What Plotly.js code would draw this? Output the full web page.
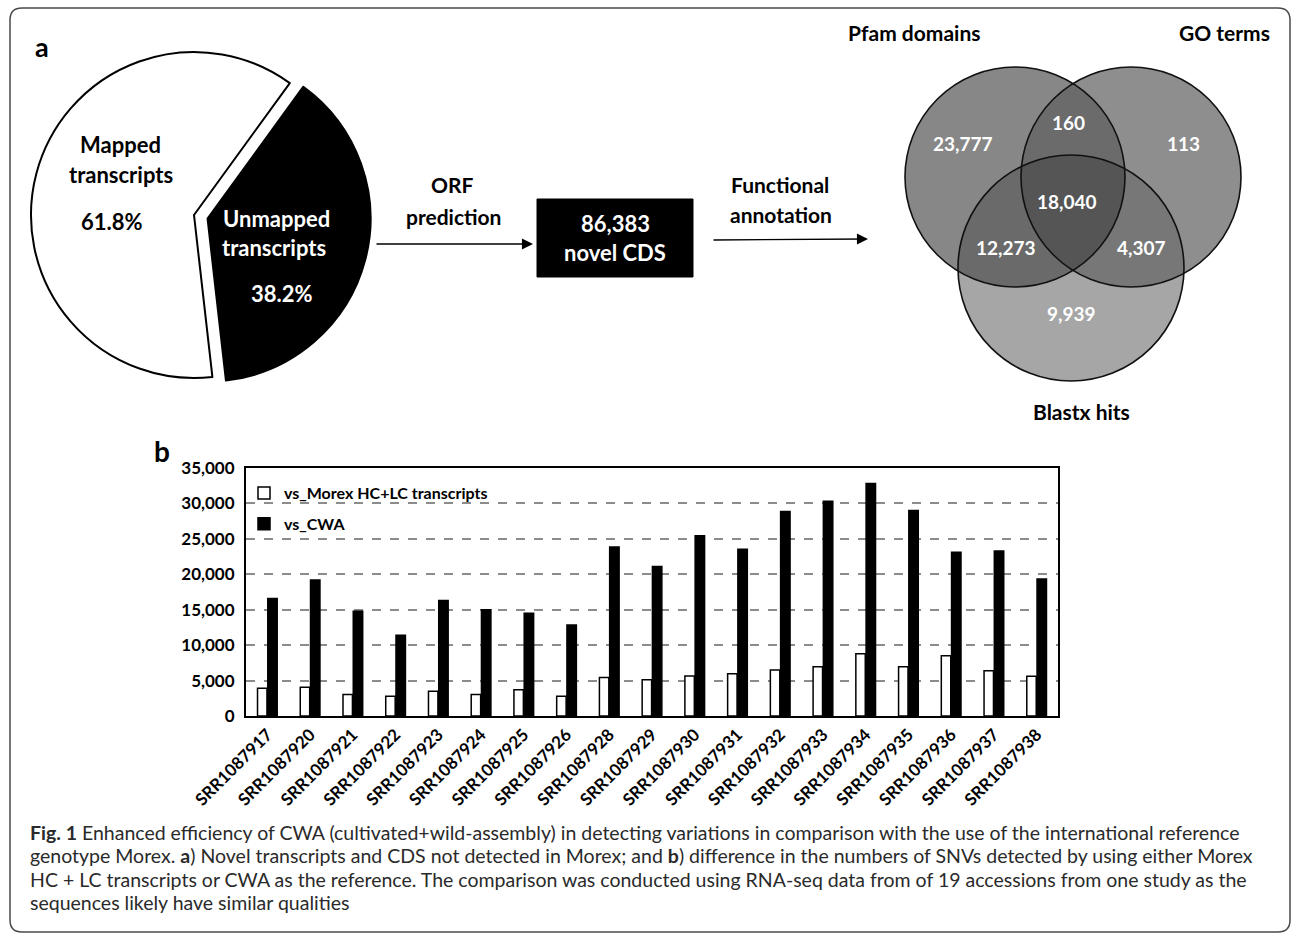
<!DOCTYPE html>
<html>
<head>
<meta charset="utf-8">
<script src="https://cdn.plot.ly/plotly-3.0.1.min.js"></script>
<style>
  html, body { margin: 0; padding: 0; background: #fff; }
  #fig { width: 1295px; height: 936px; }
</style>
</head>
<body>
<div id="fig"></div>
<script>
// ---- data ----
const pieLabels = ['Unmapped transcripts', 'Mapped transcripts'];
const pieShares = [38.2, 61.8];

const novelCDS = 86383;

const vennSets = ['Pfam domains', 'GO terms', 'Blastx hits'];
// regions: Pfam only, GO only, Blastx only, Pfam∩GO, Pfam∩Blastx, GO∩Blastx, all three
const vennRegionSets = [[0], [1], [2], [0, 1], [0, 2], [1, 2], [0, 1, 2]];
const vennCounts = [23777, 113, 9939, 160, 12273, 4307, 18040];

const accessions = ['SRR1087917', 'SRR1087920', 'SRR1087921', 'SRR1087922', 'SRR1087923',
  'SRR1087924', 'SRR1087925', 'SRR1087926', 'SRR1087928', 'SRR1087929', 'SRR1087930',
  'SRR1087931', 'SRR1087932', 'SRR1087933', 'SRR1087934', 'SRR1087935', 'SRR1087936',
  'SRR1087937', 'SRR1087938'];
const snvMorex = [3900, 4050, 3050, 2800, 3500, 3050, 3700, 2800, 5450, 5100,
  5650, 5950, 6500, 6950, 8800, 6950, 8500, 6400, 5600];
const snvCWA = [16600, 19200, 14800, 11400, 16300, 15000, 14500, 12850, 23850, 21100,
  25450, 23550, 28850, 30300, 32800, 29000, 23100, 23300, 19350];

const captionLines = [
  '<b>Fig. 1</b> Enhanced efficiency of CWA (cultivated+wild-assembly) in detecting variations in comparison with the use of the international reference',
  'genotype Morex. <b>a</b>) Novel transcripts and CDS not detected in Morex; and <b>b</b>) difference in the numbers of SNVs detected by using either Morex',
  'HC + LC transcripts or CWA as the reference. The comparison was conducted using RNA-seq data from of 19 accessions from one study as the',
  'sequences likely have similar qualities'
];

// ---- page geometry (pixels -> paper) ----
const W = 1295, H = 936;
const X = p => p / W;
const Y = p => 1 - p / H;
const FONT = 'Lato, "Open Sans", sans-serif';
const fmt = v => v.toLocaleString('en-US');

const annotations = [];
const shapes = [];

function label(text, x, y, size, color, bold, extra) {
  annotations.push(Object.assign({
    text: text, x: X(x), y: Y(y), xref: 'paper', yref: 'paper',
    xanchor: 'center', yanchor: 'middle', showarrow: false,
    font: { family: FONT, size: size, color: color, weight: bold ? 700 : 400 }
  }, extra || {}));
}

// outer rounded frame
(function () {
  const l = 10, r = 1290, t = 8, b = 932, k = 12;
  const p = [
    `M${X(l + k)},${Y(t)}`, `L${X(r - k)},${Y(t)}`, `Q${X(r)},${Y(t)} ${X(r)},${Y(t + k)}`,
    `L${X(r)},${Y(b - k)}`, `Q${X(r)},${Y(b)} ${X(r - k)},${Y(b)}`,
    `L${X(l + k)},${Y(b)}`, `Q${X(l)},${Y(b)} ${X(l)},${Y(b - k)}`,
    `L${X(l)},${Y(t + k)}`, `Q${X(l)},${Y(t)} ${X(l + k)},${Y(t)}`, 'Z'
  ].join(' ');
  shapes.push({ type: 'path', xref: 'paper', yref: 'paper', path: p,
    line: { color: '#4a4a4a', width: 1.5 }, fillcolor: 'rgba(0,0,0,0)' });
})();

// panel letters
label('a', 42, 46, 27, '#000', true);
label('b', 162, 451, 28, '#000', true);

// ---- pie panel text ----
const mappedWords = pieLabels[1].split(' ');
const unmappedWords = pieLabels[0].split(' ');
label(mappedWords[0], 120, 144, 22, '#000', true);
label(mappedWords[1], 121, 174, 22, '#000', true);
label(pieShares[1].toFixed(1) + '%', 112, 221, 22, '#000', true);
label(unmappedWords[0], 276, 218, 22, '#fff', true);
label(unmappedWords[1], 274, 248, 22, '#fff', true);
label(pieShares[0].toFixed(1) + '%', 282, 293, 22, '#fff', true);

// ---- flow: arrows, box ----
label('ORF', 452, 185, 21, '#000', true);
label('prediction', 453, 216, 21, '#000', true);
annotations.push({ x: X(533), y: Y(244), xref: 'paper', yref: 'paper', ax: -158, ay: 0,
  text: '', showarrow: true, arrowhead: 2, arrowsize: 1.7, arrowwidth: 1.3, arrowcolor: '#000' });
shapes.push({ type: 'rect', xref: 'paper', yref: 'paper', x0: X(537), x1: X(693), y0: Y(277), y1: Y(199),
  fillcolor: '#000', line: { color: '#000', width: 1 } });
label(fmt(novelCDS), 615, 223, 22, '#fff', true);
label('novel CDS', 615, 253, 22, '#fff', true);
label('Functional', 780, 185, 21, '#000', true);
label('annotation', 781, 215, 21, '#000', true);
annotations.push({ x: X(868), y: Y(239), xref: 'paper', yref: 'paper', ax: -156, ay: 1,
  text: '', showarrow: true, arrowhead: 2, arrowsize: 1.7, arrowwidth: 1.3, arrowcolor: '#000' });

// ---- Venn diagram ----
const vennCircles = [
  { cx: 1015, cy: 177, r: 110 },
  { cx: 1131, cy: 177, r: 110 },
  { cx: 1071, cy: 268, r: 113 }
];
const vennFill = ['#878787', '#8e8e8e', '#a6a6a6', '#6b6b6b', '#6a6a6a', '#777777', '#555555'];
const vennTextPos = [[963, 143], [1183, 143], [1071, 314], [1068, 123], [1006, 248], [1141, 248], [1067, 201]];
const vennTitlePos = [[914, 33], [1224, 33], [1081, 411]];

function discPath(idxs) {
  const pts = [];
  idxs.forEach(i => {
    const c = vennCircles[i];
    for (let k = 0; k < 720; k++) {
      const a = k * Math.PI / 360;
      const p = [c.cx + c.r * Math.cos(a), c.cy + c.r * Math.sin(a)];
      const inside = idxs.every(j => j === i ||
        Math.hypot(p[0] - vennCircles[j].cx, p[1] - vennCircles[j].cy) <= vennCircles[j].r + 0.01);
      if (inside) pts.push(p);
    }
  });
  const mx = pts.reduce((s, p) => s + p[0], 0) / pts.length;
  const my = pts.reduce((s, p) => s + p[1], 0) / pts.length;
  pts.sort((a, b) => Math.atan2(a[1] - my, a[0] - mx) - Math.atan2(b[1] - my, b[0] - mx));
  return 'M' + pts.map(p => X(p[0]).toFixed(6) + ',' + Y(p[1]).toFixed(6)).join('L') + 'Z';
}

vennRegionSets.forEach((s, i) => {
  shapes.push({ type: 'path', xref: 'paper', yref: 'paper', path: discPath(s),
    fillcolor: vennFill[i], line: { width: 0 } });
});
vennCircles.forEach(c => {
  shapes.push({ type: 'circle', xref: 'paper', yref: 'paper',
    x0: X(c.cx - c.r), x1: X(c.cx + c.r), y0: Y(c.cy + c.r), y1: Y(c.cy - c.r),
    fillcolor: 'rgba(0,0,0,0)', line: { color: '#111', width: 1.6 } });
});
vennCounts.forEach((v, i) => label(fmt(v), vennTextPos[i][0], vennTextPos[i][1], 19, '#fff', true));
vennSets.forEach((s, i) => label(s, vennTitlePos[i][0], vennTitlePos[i][1], 21, '#000', true));

// ---- caption ----
captionLines.forEach((t, i) => {
  annotations.push({ text: t, x: X(28), y: Y(832 + i * 23.5), xref: 'paper', yref: 'paper',
    xanchor: 'left', yanchor: 'middle', align: 'left', showarrow: false,
    font: { family: FONT, size: 19.5, color: '#2a2a2a' } });
});

// ---- traces ----
const pieR = 163, pull = 0.086, pieCx = 194, pieCy = 215;
const half = pieR * (1 + pull);

const traces = [
  {
    type: 'pie', labels: pieLabels, values: pieShares, sort: false,
    direction: 'clockwise', rotation: 36, pull: [pull, 0],
    marker: { colors: ['#000', '#fff'], line: { color: '#000', width: 2 } },
    textinfo: 'none', hoverinfo: 'skip', showlegend: false,
    domain: { x: [X(pieCx - half), X(pieCx + half)], y: [Y(pieCy + half), Y(pieCy - half)] }
  },
  {
    type: 'bar', name: 'vs_Morex HC+LC transcripts', x: accessions, y: snvMorex,
    marker: { color: '#fff', line: { color: '#000', width: 1.5 } }, legendgroup: 'm'
  },
  {
    type: 'bar', name: 'vs_CWA', x: accessions, y: snvCWA,
    marker: { color: '#000', line: { color: '#000', width: 1.5 } }, legendgroup: 'c'
  }
];

const layout = {
  width: W, height: H,
  margin: { l: 0, r: 0, t: 0, b: 0 },
  paper_bgcolor: '#fff', plot_bgcolor: '#fff',
  hovermode: false,
  barmode: 'group', bargap: 0.52, bargroupgap: 0.08,
  font: { family: FONT, color: '#000' },
  xaxis: {
    domain: [X(246), X(1058)], showline: true, mirror: true, linecolor: '#000', linewidth: 2,
    tickangle: -45, ticks: '', showgrid: false,
    tickfont: { family: FONT, size: 17, weight: 700, color: '#000' }
  },
  yaxis: {
    domain: [Y(716), Y(468)], range: [0, 35000], dtick: 5000, tickformat: ',d',
    showline: true, mirror: true, linecolor: '#000', linewidth: 2, zeroline: false,
    showgrid: true, gridcolor: '#8c8c8c', gridwidth: 2, griddash: 'dash', ticks: '',
    ticklabelstandoff: 6,
    tickfont: { family: FONT, size: 17, weight: 700, color: '#000' }
  },
  showlegend: true,
  legend: {
    x: X(244), y: Y(476), xanchor: 'left', yanchor: 'top', bgcolor: 'rgba(0,0,0,0)',
    tracegroupgap: 7, itemwidth: 30,
    font: { family: FONT, size: 16, weight: 700, color: '#000' }
  },
  shapes: shapes,
  annotations: annotations
};

Plotly.newPlot('fig', traces, layout, { displayModeBar: false, staticPlot: true });
</script>
</body>
</html>
